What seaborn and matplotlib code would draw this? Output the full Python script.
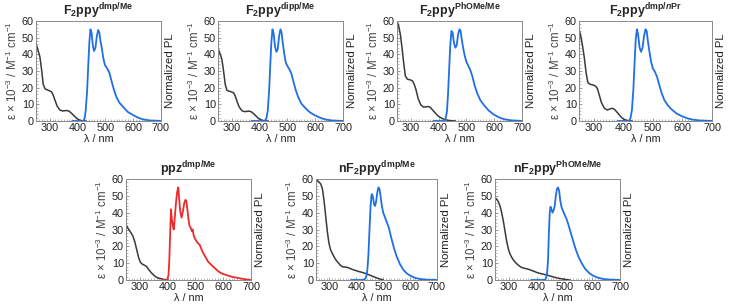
import numpy as np
import pandas as pd
import matplotlib
matplotlib.use("Agg")
import matplotlib.pyplot as plt
from matplotlib.ticker import MultipleLocator
import seaborn as sns

sns.set_style("ticks")
plt.rcParams['font.family'] = ['Liberation Sans', 'DejaVu Sans']
plt.rcParams['mathtext.fontset'] = 'custom'
plt.rcParams['mathtext.rm'] = 'Liberation Sans'
plt.rcParams['mathtext.bf'] = 'Liberation Sans:bold'
plt.rcParams['mathtext.it'] = 'Liberation Sans:italic:bold'

# ---------------- data ----------------
titles = [
    r"$\mathbf{F_2ppy}^{\mathbf{dmp/Me}}$",
    r"$\mathbf{F_2ppy}^{\mathbf{dipp/Me}}$",
    r"$\mathbf{F_2ppy}^{\mathbf{PhOMe/Me}}$",
    r"$\mathbf{F_2ppy}^{\mathbf{dmp/}\mathit{n}\mathbf{Pr}}$",
    r"$\mathbf{ppz}^{\mathbf{dmp/Me}}$",
    r"$\mathbf{nF_2ppy}^{\mathbf{dmp/Me}}$",
    r"$\mathbf{nF_2ppy}^{\mathbf{PhOMe/Me}}$",
]

abs_wl_1 = [250, 258, 264, 270, 276, 282, 288, 296, 306, 312, 318, 326, 336, 346, 354, 362, 370, 378, 388, 396, 405, 414, 422, 430]
abs_1 = [46.5, 42, 38.5, 31, 22, 19.5, 18.8, 18.3, 17.5, 15.5, 12.6, 9, 6.6, 6.0, 6.2, 6.3, 5.8, 4.6, 3.0, 1.6, 0.7, 0.2, 0.05, 0]
em_wl_1 = [380, 420, 425, 429, 434, 438, 442, 446, 450, 455, 459, 464, 469, 474, 478, 482, 486, 492, 498, 506, 514, 521, 530, 539, 550, 563, 580, 599, 617, 635, 660, 700]
em_1 = [0, 0, 1.5, 6.5, 18, 33, 47, 55, 53, 45, 42, 44, 51, 54.6, 53, 48, 44.6, 38, 33.6, 31.6, 29, 24.6, 19, 14.6, 11, 8.6, 5.5, 3.6, 2, 1, 0.3, 0]

abs_wl_2 = [250, 258, 264, 270, 276, 282, 288, 296, 306, 312, 318, 326, 336, 346, 354, 362, 370, 378, 388, 396, 405, 414, 422, 430]
abs_2 = [43.5, 40, 37, 30, 22, 18.5, 18, 17.6, 17, 15, 12, 8.5, 6.2, 5.6, 5.8, 5.9, 5.5, 4.4, 2.8, 1.5, 0.7, 0.2, 0.05, 0]
em_wl_2 = [370, 418, 424, 429, 434, 438, 442, 446, 450, 455, 460, 465, 470, 475, 479, 483, 488, 494, 500, 507, 514, 521, 530, 539, 550, 563, 580, 599, 617, 635, 660, 700]
em_2 = [0, 0, 1.5, 6, 18, 33, 47, 55, 53, 45, 41.5, 43, 51, 55, 53, 47, 41, 35, 33, 31, 28.5, 24, 18.5, 14.2, 10.5, 8, 5.3, 3.4, 2, 1, 0.3, 0]

abs_wl_3 = [250, 256, 262, 268, 274, 280, 288, 296, 306, 312, 318, 326, 336, 346, 354, 362, 370, 378, 388, 396, 405, 414, 424, 434, 446, 460]
abs_3 = [60, 57, 52, 44, 35, 27, 25, 24.8, 24, 22, 19, 13.5, 9.6, 8.3, 8.5, 8.7, 8.2, 6.6, 4.8, 3.3, 2.2, 1.4, 0.8, 0.4, 0.15, 0]
em_wl_3 = [380, 420, 425, 430, 434, 438, 442, 446, 450, 455, 460, 465, 470, 475, 479, 483, 488, 494, 500, 507, 514, 521, 530, 539, 550, 563, 580, 599, 617, 635, 660, 700]
em_3 = [0, 0, 1.5, 6, 17, 32, 46, 54, 53, 47, 44, 45.5, 52, 55, 54, 49, 44, 39, 35.5, 33, 30.5, 27, 21, 16.5, 12.5, 9.5, 6.3, 3.8, 2.2, 1.1, 0.4, 0]

abs_wl_4 = [250, 256, 262, 268, 274, 280, 288, 296, 306, 312, 318, 326, 336, 346, 354, 362, 370, 378, 388, 396, 405, 414, 422, 430]
abs_4 = [55, 51, 45, 38, 29, 23, 22, 21.7, 21, 19.5, 16, 11, 7.6, 6.6, 7.2, 7.6, 7.0, 5.4, 3.3, 1.8, 0.8, 0.25, 0.05, 0]
em_wl_4 = [380, 418, 424, 429, 434, 438, 442, 446, 450, 455, 460, 465, 470, 475, 479, 483, 488, 494, 500, 507, 514, 521, 530, 539, 550, 563, 580, 599, 617, 635, 660, 700]
em_4 = [0, 0, 1.5, 6.5, 19, 35, 49, 55, 52, 44, 41.5, 44, 51, 55, 54, 48, 42, 35.5, 31.5, 29.5, 26.5, 22, 16.5, 12.5, 9.5, 7, 4.5, 2.8, 1.6, 0.8, 0.3, 0]

abs_wl_5 = [250, 256, 262, 268, 275, 282, 290, 296, 302, 308, 316, 324, 332, 340, 349, 356, 364, 373, 382, 390, 400]
abs_5 = [33, 31, 29.5, 28, 26, 22.5, 17, 13, 10.5, 9.5, 8.8, 8, 6.2, 4.5, 3, 2, 1.3, 0.9, 0.5, 0.2, 0]
em_wl_5 = [380, 398, 403, 406, 409, 412, 415, 419, 422, 426, 430, 434, 438, 441, 445, 450, 455, 460, 464, 467, 471, 475, 479, 483, 487, 490, 493, 497, 502, 508, 515, 525, 535, 545, 557, 570, 582, 593, 610, 625, 640, 660, 680, 700]
em_5 = [0, 0, 3, 12, 28, 42, 36, 32, 30, 38, 46, 52, 55, 49, 41, 37, 41, 46, 47.6, 47, 42, 36, 32, 31, 29, 30, 27, 25, 23.5, 22, 21, 17, 14, 11, 9, 7, 5.2, 4, 3, 2.2, 1.6, 1, 0.4, 0]

abs_wl_6 = [250, 256, 262, 268, 274, 280, 286, 292, 298, 304, 310, 318, 326, 334, 342, 350, 360, 370, 380, 390, 400, 410, 420, 430, 440, 450, 460, 470, 480, 490, 500]
abs_6 = [60, 59, 58, 57, 54, 47, 38, 29, 22, 18, 16, 13.5, 11.5, 10, 8.5, 7.8, 7.7, 7.3, 6.6, 6, 5.5, 5, 4.6, 4.1, 3.5, 2.9, 2.2, 1.6, 1, 0.5, 0]
em_wl_6 = [380, 425, 432, 437, 441, 445, 449, 453, 457, 461, 466, 470, 474, 478, 482, 486, 490, 495, 500, 507, 514, 521, 530, 540, 550, 562, 575, 590, 605, 620, 640, 665, 700]
em_6 = [0, 0, 0.5, 2, 6, 15, 30, 44, 51, 50, 45, 44, 47, 52, 55, 54, 50, 44, 40, 37, 34, 31, 25, 19, 14, 9.5, 6, 3.6, 2.2, 1.2, 0.5, 0.15, 0]

abs_wl_7 = [250, 256, 262, 268, 274, 280, 286, 292, 298, 304, 310, 318, 326, 334, 342, 350, 360, 370, 380, 390, 400, 410, 420, 430, 440, 450, 460, 470, 480, 490, 500, 510, 520]
abs_7 = [49, 48, 46.5, 44, 40, 35, 29, 23, 18.5, 15.5, 13.5, 11.5, 10, 8.8, 7.8, 7.2, 6.8, 6.4, 5.8, 5.2, 4.5, 4.0, 3.6, 3.2, 2.8, 2.3, 1.8, 1.4, 1, 0.7, 0.4, 0.15, 0]
em_wl_7 = [380, 425, 432, 437, 441, 444, 447, 450, 453, 457, 461, 465, 469, 473, 477, 481, 485, 490, 495, 500, 507, 514, 521, 530, 540, 550, 562, 575, 590, 605, 620, 640, 665, 700]
em_7 = [0, 0, 0.5, 3, 12, 28, 40, 43.5, 42, 40, 41.5, 44, 50, 54, 55, 53, 47, 43, 41, 39, 36.5, 33, 29, 24, 18.5, 14, 10, 6.5, 4, 2.4, 1.4, 0.6, 0.2, 0]

abs_wls = [abs_wl_1, abs_wl_2, abs_wl_3, abs_wl_4, abs_wl_5, abs_wl_6, abs_wl_7]
abs_vals = [abs_1, abs_2, abs_3, abs_4, abs_5, abs_6, abs_7]
em_wls = [em_wl_1, em_wl_2, em_wl_3, em_wl_4, em_wl_5, em_wl_6, em_wl_7]
em_vals = [em_1, em_2, em_3, em_4, em_5, em_6, em_7]
em_colors = ["#1f6fe5"] * 4 + ["#ee2a2a"] + ["#1f6fe5"] * 2

x_ticks = [300, 400, 500, 600, 700]
y_ticks = [0, 10, 20, 30, 40, 50, 60]

# ---------------- layout ----------------
W, H = 729, 306
fig = plt.figure(figsize=(W / 100, H / 100), dpi=100)

# (left, top, right, bottom) in pixels
boxes = [
    (36, 21, 161, 121), (218, 21, 343, 121), (397, 21, 522, 121), (579, 21, 712, 121),
    (126, 179, 251, 280), (316, 179, 437, 280), (495, 179, 620, 280),
]

fs = 7.8
abs_color = "#3a3a3a"
for i, (l, t, r, b) in enumerate(boxes):
    ax = fig.add_axes([l / W, 1 - b / H, (r - l) / W, (b - t) / H])
    sns.lineplot(x=abs_wls[i], y=abs_vals[i], ax=ax, color=abs_color, lw=1.1)
    sns.lineplot(x=em_wls[i], y=em_vals[i], ax=ax, color=em_colors[i], lw=1.3)
    ax.set_xlim(250, 700)
    ax.set_ylim(0, 60)
    ax.set_xticks(x_ticks)
    ax.set_yticks(y_ticks)
    ax.xaxis.set_minor_locator(MultipleLocator(10))
    ax.yaxis.set_minor_locator(MultipleLocator(2))
    ax.tick_params(axis='both', which='major', direction='in', length=2.5, width=0.6,
                   labelsize=fs, pad=1.5, colors="#222222", color="#888888")
    ax.tick_params(axis='both', which='minor', direction='in', length=1.2, width=0.5, color="#999999")
    for s in ax.spines.values():
        s.set_color("#8a8a8a")
        s.set_linewidth(0.7)
    ax.set_xlabel("λ / nm", fontsize=fs, labelpad=0.5, color="#222222")
    ax.set_ylabel(r"ε × 10$^{−3}$ / M$^{−1}$ cm$^{−1}$", fontsize=8.3, labelpad=1, color="#444444")
    ax.set_title(titles[i], fontsize=9, pad=2.5)
    ax2 = ax.twinx()
    ax2.set_yticks([])
    ax2.set_ylabel("Normalized PL", fontsize=fs + 0.4, labelpad=3, color="#222222")
    for s in ax2.spines.values():
        s.set_visible(False)

fig.savefig("out.png", dpi=100)
